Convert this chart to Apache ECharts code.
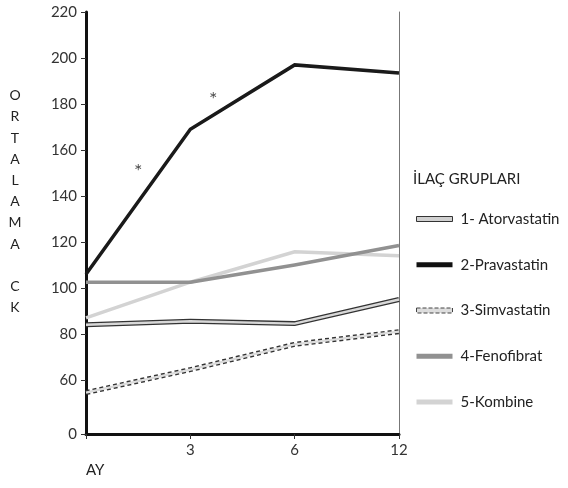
<!DOCTYPE html>
<html><head><meta charset="utf-8">
<script src="https://cdn.jsdelivr.net/npm/echarts@6/dist/echarts.min.js"></script>
<style>html,body{margin:0;padding:0;background:#fff}#c{width:568px;height:488px}</style>
</head><body><div id="c"></div>
<script>
var months = ['0', '3', '6', '12'];
var yTicks = [36.5, 60, 80, 100, 120, 140, 160, 180, 200, 220];
var atorvastatin = [84, 85.5, 84.5, 95];
var pravastatin = [106, 169, 197, 193.5];
var simvastatin = [54.5, 64.5, 75.5, 81];
var fenofibrat = [102.5, 102.5, 110, 118.5];
var kombine = [87, 102.5, 115.7, 114];
var stars = [[0.5, 150.5], [1.22, 182]];
var names = ['1- Atorvastatin', '2-Pravastatin', '3-Simvastatin', '4-Fenofibrat', '5-Kombine'];

var FONT = 'Lato, "Open Sans", sans-serif';
var chart = echarts.init(document.getElementById('c'), null, {renderer: 'canvas'});
function line(name, data, color, width, type, z) {
  return {name: name, type: 'line', data: data, showSymbol: false, symbol: 'none', silent: true,
    lineStyle: {color: color, width: width, type: type || 'solid', cap: 'butt', join: 'miter'},
    itemStyle: {color: color}, z: z || 2, animation: false};
}
chart.setOption({
  animation: false,
  grid: {left: 86, right: 169, top: 12, bottom: 54, containLabel: false},
  xAxis: [{
    type: 'category', data: months, boundaryGap: false,
    axisLine: {lineStyle: {color: '#111', width: 3}},
    axisTick: {show: true, length: 5, lineStyle: {color: '#333', width: 1}, alignWithLabel: true},
    axisLabel: {margin: 9, fontSize: 15, color: '#333', fontFamily: FONT,
      formatter: function (v) { return v === '0' ? '' : v; }},
    splitLine: {show: false}
  }, {
    type: 'value', min: 0, max: 3, show: false
  }],
  yAxis: [{
    type: 'value', min: 36.5, max: 220,
    axisLine: {show: true, lineStyle: {color: '#111', width: 3}},
    axisTick: {show: true, length: 5, lineStyle: {color: '#333', width: 1}, customValues: yTicks},
    axisLabel: {margin: 9, fontSize: 15, color: '#333', fontFamily: FONT, customValues: yTicks,
      formatter: function (v) { return v < 50 ? '0' : String(v); }},
    splitLine: {show: false}
  }, {
    type: 'value', min: 36.5, max: 220, position: 'right',
    axisLine: {show: true, lineStyle: {color: '#777', width: 1}},
    axisTick: {show: false}, axisLabel: {show: false}, splitLine: {show: false}
  }],
  legend: {
    orient: 'vertical', left: 411, top: 205, itemWidth: 36, itemHeight: 5, itemGap: 27.75,
    textStyle: {fontSize: 15, color: '#222', fontFamily: FONT, padding: [0, 0, 0, 3], lineHeight: 18},
    selectedMode: false,
    data: [
      {name: names[0], icon: 'rect', itemStyle: {color: '#d0d0d0', borderColor: '#333', borderWidth: 1}},
      {name: names[1], icon: 'rect', itemStyle: {color: '#111', borderWidth: 0}},
      {name: names[2], icon: 'rect', itemStyle: {color: '#ddd', borderColor: '#444', borderWidth: 1, borderType: 'dashed'}},
      {name: names[3], icon: 'rect', itemStyle: {color: '#919191', borderWidth: 0}},
      {name: names[4], icon: 'rect', itemStyle: {color: '#d3d3d3', borderWidth: 0}}
    ]
  },
  graphic: [
    {type: 'text', left: 413, top: 172, style: {text: 'İLAÇ GRUPLARI', fill: '#222', font: '15px ' + FONT}},
    {type: 'text', left: 86, top: 463, style: {text: 'AY', fill: '#222', font: '15px ' + FONT}},
    {type: 'text', x: 15, y: 85, style: {text: 'O\nR\nT\nA\nL\nA\nM\nA\n\nC\nK', fill: '#222', font: '14px ' + FONT,
      align: 'center', lineHeight: 21.2}}
  ],
  series: [
    line(names[4], kombine, '#d3d3d3', 3.5, 'solid', 2),
    line(names[3], fenofibrat, '#919191', 3.5, 'solid', 3),
    line(names[0], atorvastatin, '#333', 5, 'solid', 4),
    line('atorvastatin-fill', atorvastatin, '#d8d8d8', 2.4, 'solid', 5),
    line(names[2], simvastatin, '#333', 5, [4, 3], 4),
    line('simvastatin-fill', simvastatin, '#dcdcdc', 2.4, 'solid', 5),
    line(names[1], pravastatin, '#1a1a1a', 3.5, 'solid', 6),
    {type: 'scatter', xAxisIndex: 1, yAxisIndex: 0, data: stars, symbolSize: 1, silent: true,
      itemStyle: {color: 'rgba(0,0,0,0)'},
      label: {show: true, position: 'inside', formatter: '*', fontSize: 20, color: '#222', fontFamily: FONT}}
  ]
});
</script></body></html>
